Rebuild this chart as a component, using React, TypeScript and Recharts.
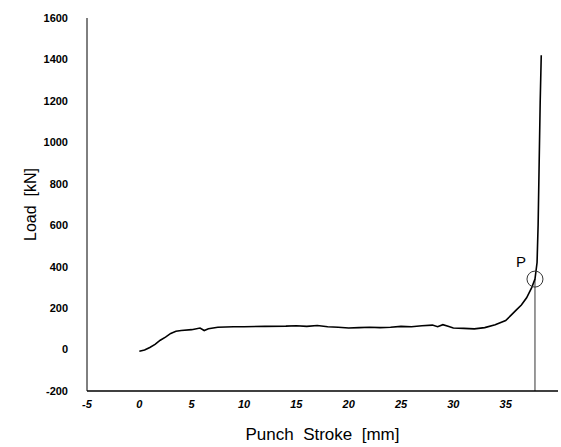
import React from 'react';
import {
  LineChart,
  Line,
  XAxis,
  YAxis,
  ReferenceLine,
  ReferenceDot,
} from 'recharts';

// Punch stroke [mm] and load [kN]
const stroke = [
  0, 0.5, 1, 1.5, 2, 2.5, 3, 3.5, 4, 5, 5.8, 6.2, 6.6, 7.5, 9, 10, 12, 14, 15, 16,
  17, 18, 19, 20, 21, 22, 23, 24, 25, 26, 27, 28, 28.5, 29, 29.5, 30, 31, 32, 33,
  34, 35, 35.5, 36, 36.5, 37, 37.5, 37.8, 38.0, 38.1, 38.2, 38.3, 38.4,
];
const load = [
  -8, -2, 10, 25, 45, 60, 78, 88, 92, 96, 104, 92, 100, 108, 110, 110, 112, 113, 115, 112,
  116, 110, 108, 104, 106, 108, 106, 108, 112, 110, 115, 118, 110, 120, 112, 104, 102, 100, 106,
  120, 140, 165, 190, 215, 250, 300, 340, 420, 600, 900, 1200, 1420,
];

const xTicks = [-5, 0, 5, 10, 15, 20, 25, 30, 35];
const yTicks = [-200, 0, 200, 400, 600, 800, 1000, 1200, 1400, 1600];

// point P marked on the curve
const pStroke = 37.8;
const pLoad = 340;

const data = stroke.map((x, i) => ({ x, load: load[i] }));

const font = 'Liberation Sans, Arial, sans-serif';
const tickFont = { fontFamily: font, fontSize: 11, fontWeight: 700, fill: '#000' };

export default function App() {
  return (
    <div style={{ position: 'absolute', left: 0, top: 0, background: '#fff' }}>
      <LineChart width={561} height={447} data={data} margin={{ top: 18, right: 3, bottom: 26, left: 0 }}>
        <XAxis
          dataKey="x"
          type="number"
          domain={[-5, 40]}
          ticks={xTicks}
          tickSize={0}
          tickMargin={9}
          tickLine={false}
          axisLine={{ stroke: '#000', strokeWidth: 1.5 }}
          tick={{ ...tickFont, fontStyle: 'italic' }}
          label={{
            value: 'Punch\u00a0\u00a0Stroke\u00a0\u00a0[mm]',
            position: 'bottom',
            offset: 7,
            style: { fontFamily: font, fontSize: 17, fill: '#000' },
          }}
        />
        <YAxis
          type="number"
          domain={[-200, 1600]}
          ticks={yTicks}
          width={87}
          tickSize={0}
          tickMargin={19}
          tickLine={false}
          axisLine={{ stroke: '#000', strokeWidth: 1 }}
          tick={tickFont}
          label={{
            value: 'Load\u00a0\u00a0[kN]',
            angle: -90,
            position: 'insideLeft',
            offset: 30,
            style: { textAnchor: 'middle', fontFamily: font, fontSize: 16, fill: '#000' },
          }}
        />
        <ReferenceLine
          segment={[{ x: pStroke, y: -200 }, { x: pStroke, y: pLoad }]}
          stroke="#333"
          strokeWidth={1}
        />
        <Line
          dataKey="load"
          stroke="#000"
          strokeWidth={1.6}
          dot={false}
          isAnimationActive={false}
        />
        <ReferenceDot
          x={pStroke}
          y={pLoad}
          r={8}
          fill="none"
          stroke="#333"
          strokeWidth={1}
          label={{
            value: 'P',
            position: 'left',
            dx: 4,
            dy: -17,
            style: { fontFamily: font, fontSize: 15, fill: '#000' },
          }}
        />
      </LineChart>
    </div>
  );
}
